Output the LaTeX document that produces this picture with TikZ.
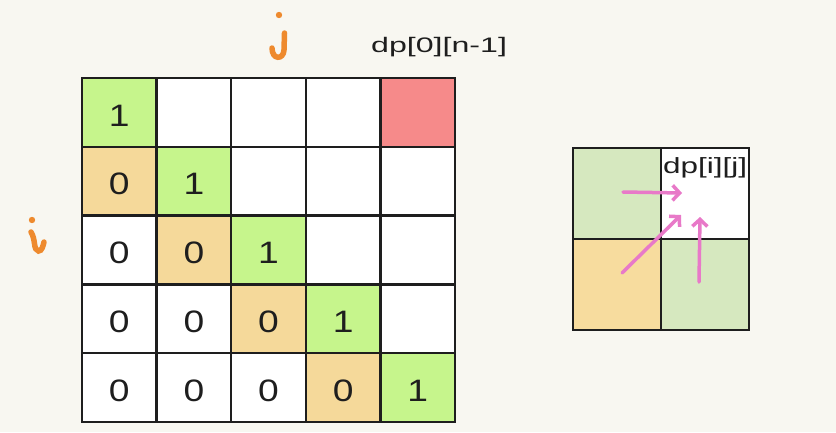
\documentclass[tikz,border=0pt]{standalone}
\usepackage{fontspec}
\setmainfont{Liberation Sans}
\usepackage{graphicx}
\usetikzlibrary{arrows.meta}
\definecolor{bgc}{HTML}{F8F7F1}
\definecolor{linec}{HTML}{1E1E1E}
\definecolor{greenc}{HTML}{C6F58C}
\definecolor{yellowc}{HTML}{F5D99A}
\definecolor{redc}{HTML}{F68A8A}
\definecolor{sgreenc}{HTML}{D6E8BF}
\definecolor{syellowc}{HTML}{F7DC9E}
\definecolor{pinkc}{HTML}{E879C8}
\definecolor{orangec}{HTML}{EE8A2E}
\newcommand{\mkcell}[3]{\node[cellbox, fill=#3] (c#1#2) at ({82+74.6*(#2+0.5)},{78+68.8*(#1+0.5)}) {};}
\newcommand{\mkdig}[3]{\node[digit] (d#1#2) at ([yshift=-3pt]c#1#2.center) {\scalebox{1.2}[1]{#3}};}
\begin{document}
\begin{tikzpicture}[x=1pt,y=-1pt,
  cellbox/.style={draw=linec, line width=2.4pt, minimum width=74.6pt, minimum height=68.8pt, inner sep=0pt, outer sep=0pt},
  sbox/.style={draw=linec, line width=1.6pt, minimum width=88pt, minimum height=91pt, inner sep=0pt, outer sep=0pt},
  digit/.style={inner sep=0pt, text=linec, font=\fontsize{31}{36}\selectfont},
  label/.style={inner sep=0pt, text=linec, anchor=base west},
  pinkarrow/.style={draw=pinkc, line width=3.5pt, line cap=round, -{Straight Barb[length=7pt,width=15pt]}},
  hand/.style={draw=orangec, line width=5.5pt, line cap=round}]
\fill[bgc] (0,0) rectangle (836,432);
\useasboundingbox (0,0) rectangle (836,432);
% main grid
\mkcell{0}{0}{greenc}\mkcell{0}{1}{white}\mkcell{0}{2}{white}\mkcell{0}{3}{white}\mkcell{0}{4}{redc}
\mkcell{1}{0}{yellowc}\mkcell{1}{1}{greenc}\mkcell{1}{2}{white}\mkcell{1}{3}{white}\mkcell{1}{4}{white}
\mkcell{2}{0}{white}\mkcell{2}{1}{yellowc}\mkcell{2}{2}{greenc}\mkcell{2}{3}{white}\mkcell{2}{4}{white}
\mkcell{3}{0}{white}\mkcell{3}{1}{white}\mkcell{3}{2}{yellowc}\mkcell{3}{3}{greenc}\mkcell{3}{4}{white}
\mkcell{4}{0}{white}\mkcell{4}{1}{white}\mkcell{4}{2}{white}\mkcell{4}{3}{yellowc}\mkcell{4}{4}{greenc}
\mkdig{0}{0}{1}
\mkdig{1}{0}{0}\mkdig{1}{1}{1}
\mkdig{2}{0}{0}\mkdig{2}{1}{0}\mkdig{2}{2}{1}
\mkdig{3}{0}{0}\mkdig{3}{1}{0}\mkdig{3}{2}{0}\mkdig{3}{3}{1}
\mkdig{4}{0}{0}\mkdig{4}{1}{0}\mkdig{4}{2}{0}\mkdig{4}{3}{0}\mkdig{4}{4}{1}
% labels
\node[label, font=\fontsize{21}{25}\selectfont] (top) at (371,52) {\scalebox{1.53}[1]{dp[0][n-1]}};
% hand letters
\draw[hand] (284.5,33) -- (284,50) .. controls (283.5,60) and (272,60) .. (272,48);
\fill[orangec] (279,15) circle (3.2pt);
\draw[hand] (31,232) .. controls (36,240) and (33,250) .. (38.5,251) .. controls (42,251) and (43,246) .. (44,242);
\fill[orangec] (32,220) circle (3.2pt);
% small grid
\node[sbox, fill=sgreenc] (s00) at (617,193.5) {};
\node[sbox, fill=white] (s01) at (705,193.5) {};
\node[sbox, fill=syellowc] (s10) at (617,284.5) {};
\node[sbox, fill=sgreenc] (s11) at (705,284.5) {};
\node[label, font=\fontsize{22}{26}\selectfont] (dpij) at (663,173) {\scalebox{1.43}[1]{dp[i][j]}};
\coordinate (a1s) at (623,192);
\coordinate (a1e) at (682,193);
\coordinate (a2s) at (622,273);
\coordinate (a2e) at (681,215);
\coordinate (a3s) at (699,282);
\coordinate (a3e) at (700,217);
\draw[pinkarrow] (a1s) -- (a1e);
\draw[pinkarrow] (a2s) -- (a2e);
\draw[pinkarrow] (a3s) -- (a3e);
\end{tikzpicture}
\end{document}
